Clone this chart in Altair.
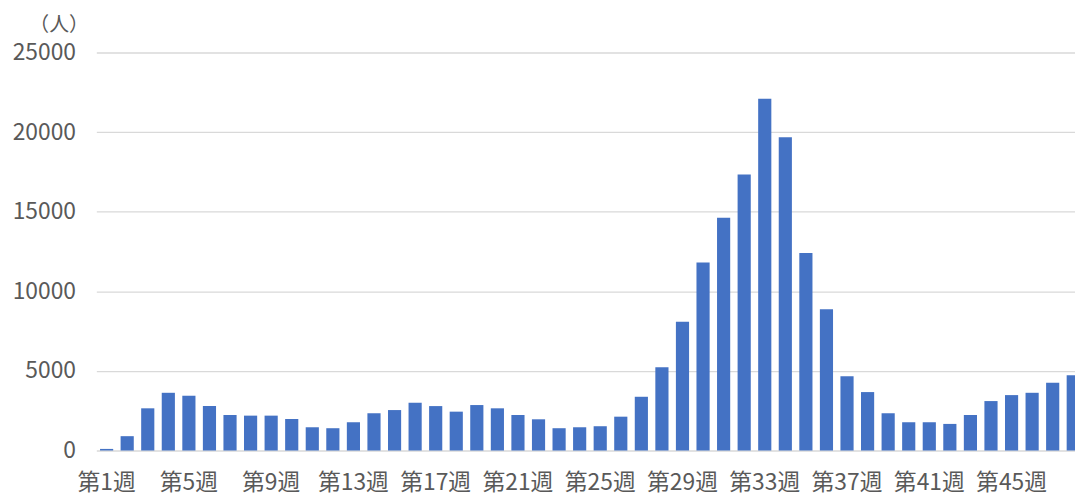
import altair as alt
import pandas as pd

weeks = [f"第{i}週" for i in range(1, 49)]
cases = [100, 900, 2650, 3625, 3440, 2790, 2230, 2190, 2190, 1980,
         1460, 1400, 1775, 2340, 2540, 3000, 2790, 2440, 2855, 2650,
         2230, 1960, 1400, 1460, 1525, 2125, 3375, 5230, 8090, 11810,
         14625, 17340, 22100, 19670, 12400, 8875, 4670, 3670, 2340, 1775,
         1775, 1670, 2230, 3105, 3480, 3625, 4250, 4730]
shown_labels = [f"第{i}週" for i in range(1, 49, 4)]
y_ticks = [0, 5000, 10000, 15000, 20000, 25000]

df = pd.DataFrame({"week": weeks, "cases": cases})

FONT = "Noto Sans CJK JP"
TEXT = "#595959"

chart = alt.Chart(df).mark_bar(color="#4472C4").encode(
    x=alt.X("week:N", sort=weeks,
            scale=alt.Scale(range=[0, 994.6], paddingInner=0.36, paddingOuter=0.18),
            axis=alt.Axis(title=None, values=shown_labels, labelAngle=0,
                          labelFont=FONT, labelFontSize=23, labelColor=TEXT,
                          labelPadding=21, ticks=False, domain=False,
                          labelOverlap=False, grid=False)),
    y=alt.Y("cases:Q", scale=alt.Scale(domain=[0, 25000], nice=False),
            axis=alt.Axis(title="（人）", titleAngle=0, titleAlign="right",
                          titleBaseline="alphabetic", titleX=-8, titleY=-22,
                          titleFont=FONT, titleFontSize=20, titleFontWeight="normal",
                          titleColor=TEXT,
                          values=y_ticks, format="d",
                          labelFont=FONT, labelFontSize=23, labelColor=TEXT,
                          labelPadding=21, ticks=False, domain=False,
                          grid=True, gridColor="#d9d9d9", gridWidth=1.3)),
).properties(
    width=986, height=401,
    background="white",
    autosize=alt.AutoSizeParams(type="none"),
    padding={"left": 89, "top": 43, "right": 0, "bottom": 42},
).configure_view(stroke=None)

chart.save("out.html", embed_options={"renderer": "svg", "actions": False})
